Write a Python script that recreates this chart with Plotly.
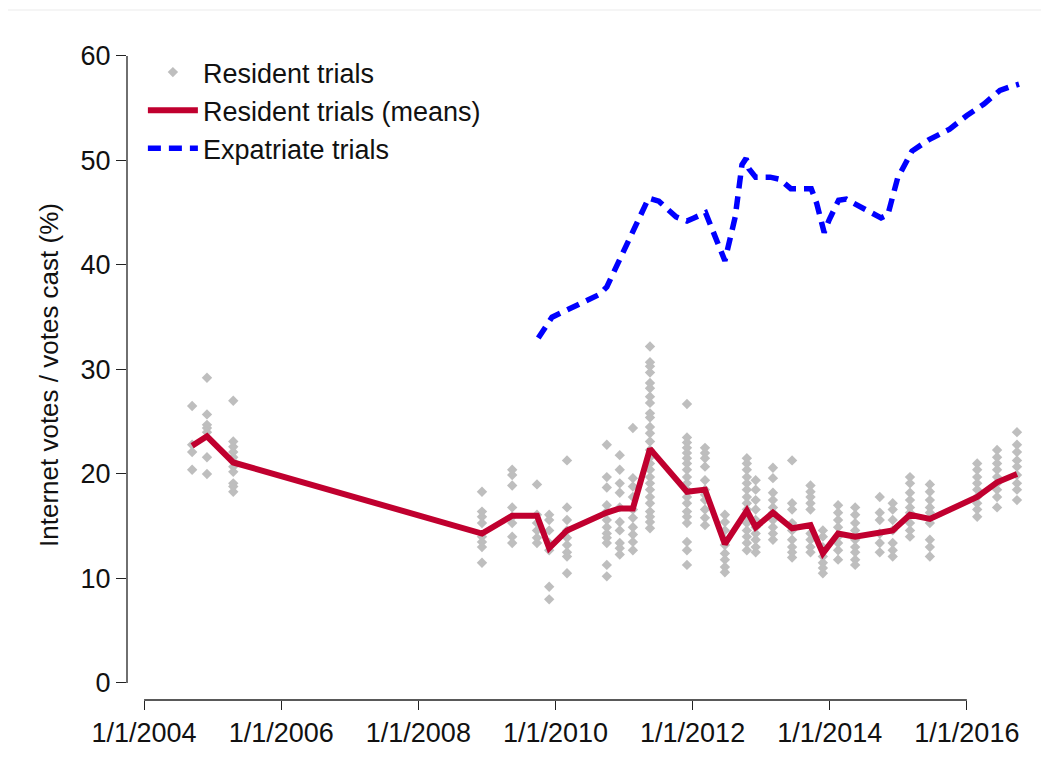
import plotly.graph_objects as go

# ---------------- data ----------------
mean_dates = ["2004-09-13", "2004-12-01", "2005-04-20", "2008-12-05", "2009-05-15",
              "2009-09-24", "2009-11-28", "2010-03-03", "2010-10-01", "2010-12-09",
              "2011-02-17", "2011-05-19", "2011-12-02", "2012-03-07", "2012-06-21",
              "2012-10-16", "2012-12-02", "2013-03-04", "2013-06-14", "2013-09-20",
              "2013-11-25", "2014-02-14", "2014-05-16", "2014-09-24", "2014-12-02",
              "2015-03-04", "2015-06-18", "2016-02-25", "2016-06-10", "2016-09-24"]

mean_values = [22.7, 23.6, 21.1, 14.3, 16.0, 16.0, 12.9, 14.6, 16.3, 16.7,
               16.7, 22.4, 18.3, 18.5, 13.3, 16.5, 14.9, 16.3, 14.8, 15.1,
               12.4, 14.3, 14.0, 14.4, 14.6, 16.1, 15.7, 17.8, 19.2, 20.0]

resident_values = [
    [26.5, 22.8, 22.1, 20.4],
    [29.2, 25.7, 24.7, 24.4, 24.0, 21.6, 20.0],
    [27.0, 23.1, 22.6, 22.1, 21.6, 21.2, 20.7, 20.2, 19.1, 18.8, 18.3],
    [18.3, 16.4, 15.9, 15.3, 14.0, 13.5, 13.0, 11.5],
    [20.4, 19.9, 18.9, 16.8, 15.9, 15.3, 14.0, 13.4],
    [19.0, 16.1, 15.3, 14.6, 13.9, 13.4],
    [16.1, 15.6, 14.6, 13.4, 12.7, 9.2, 8.0],
    [21.3, 16.8, 15.6, 14.6, 13.9, 13.2, 12.5, 12.1, 10.5],
    [22.8, 19.7, 18.7, 17.0, 16.4, 15.6, 14.9, 14.3, 13.9, 13.4, 11.3, 10.2],
    [21.8, 20.4, 19.1, 18.2, 16.8, 15.4, 14.6, 13.4, 12.9, 12.3],
    [24.4, 19.6, 18.8, 17.8, 16.6, 15.8, 14.9, 14.2, 13.5, 12.7],
    [32.2, 30.7, 30.3, 29.7, 28.7, 28.2, 27.4, 26.8, 25.8, 25.4, 24.5, 23.9, 23.1,
     22.3, 21.6, 21.0, 20.4, 19.7, 19.1, 18.5, 17.8, 17.2, 16.4, 15.9, 15.4, 14.8],
    [26.7, 23.5, 23.0, 22.5, 22.0, 21.5, 21.0, 20.4, 19.7, 19.1, 18.5, 17.8, 17.2,
     16.4, 15.9, 15.3, 13.5, 12.7, 11.3],
    [22.5, 22.0, 21.5, 20.7, 19.4, 18.5, 18.0, 17.5, 16.6, 15.8, 15.1],
    [16.1, 15.4, 14.6, 13.7, 13.2, 12.4, 11.8, 11.1, 10.6],
    [21.5, 21.0, 20.4, 19.7, 19.1, 18.5, 17.8, 17.2, 16.6, 15.9, 15.3, 14.6, 14.0,
     13.4, 12.7],
    [19.4, 18.5, 17.5, 16.6, 15.6, 14.9, 14.3, 13.7, 13.0, 12.5],
    [20.6, 19.6, 18.2, 17.5, 16.8, 16.3, 15.6, 14.9, 14.3, 13.7],
    [21.3, 17.2, 16.6, 15.3, 14.6, 13.7, 13.0, 12.5, 12.0],
    [18.9, 18.3, 17.8, 17.2, 16.6, 14.3, 13.7, 13.0, 12.5],
    [14.6, 14.0, 13.0, 12.1, 11.5, 11.0, 10.5],
    [17.0, 16.3, 15.6, 14.9, 14.0, 13.4, 12.7, 11.8],
    [16.8, 16.1, 15.3, 14.6, 13.7, 13.0, 12.5, 11.8, 11.3],
    [17.8, 16.3, 15.6, 14.3, 13.4, 12.5],
    [17.2, 16.6, 15.6, 14.6, 13.4, 12.7, 12.1],
    [19.7, 19.1, 18.2, 17.5, 16.8, 16.3, 15.3, 14.6, 14.0],
    [19.0, 18.3, 17.5, 16.8, 16.3, 15.3, 13.7, 13.0, 12.1],
    [21.0, 20.4, 19.7, 19.1, 18.5, 17.8, 17.2, 16.6, 15.9],
    [22.3, 21.6, 21.0, 20.4, 19.7, 19.1, 18.5, 17.8, 16.8],
    [24.0, 22.8, 22.1, 21.3, 20.7, 19.9, 19.1, 18.5, 17.5],
]

expat_dates = ["2009-10-01", "2009-12-13", "2010-08-25", "2010-10-01", "2011-05-12",
               "2011-07-05", "2011-10-05", "2011-12-02", "2012-01-08", "2012-03-10",
               "2012-06-21", "2012-08-15", "2012-09-20", "2012-10-12", "2012-10-27",
               "2012-12-02", "2013-02-17", "2013-04-09", "2013-06-07", "2013-09-24",
               "2013-10-23", "2013-12-02", "2013-12-28", "2014-02-17", "2014-03-29",
               "2014-06-25", "2014-10-01", "2014-11-06", "2014-12-28", "2015-03-15",
               "2015-06-14", "2015-10-01", "2016-01-01", "2016-04-01", "2016-06-25",
               "2016-08-11", "2016-10-05"]

expat_values = [33.0, 35.0, 37.2, 37.9, 46.4, 46.1, 44.6, 44.2, 44.5, 45.0,
                40.4, 44.6, 49.6, 50.2, 49.2, 48.4, 48.4, 48.2, 47.3, 47.3,
                45.9, 43.1, 44.3, 46.2, 46.3, 45.5, 44.5, 44.8, 48.3, 50.9,
                52.0, 53.0, 54.3, 55.4, 56.7, 57.0, 57.3]

x_tick_vals = ["2004-01-01", "2006-01-01", "2008-01-01", "2010-01-01",
               "2012-01-01", "2014-01-01", "2016-01-01"]
x_tick_text = ["1/1/2004", "1/1/2006", "1/1/2008", "1/1/2010",
               "1/1/2012", "1/1/2014", "1/1/2016"]
y_tick_vals = [0, 10, 20, 30, 40, 50, 60]

# ---------------- figure ----------------
scatter_x, scatter_y = [], []
for d, vals in zip(mean_dates, resident_values):
    for v in vals:
        scatter_x.append(d)
        scatter_y.append(v)

FONT = "Arial, 'Liberation Sans', sans-serif"
TXT = "#111111"

fig = go.Figure()
fig.add_trace(go.Scatter(
    x=scatter_x, y=scatter_y, mode="markers", name="Resident trials",
    marker=dict(symbol="diamond", size=8, color="#BEBEBE", line=dict(width=0)),
    legendgroup="a",
))
fig.add_trace(go.Scatter(
    x=mean_dates, y=mean_values, mode="lines", name="Resident trials (means)",
    line=dict(color="#C0002F", width=6), legendgroup="b",
))
fig.add_trace(go.Scatter(
    x=expat_dates, y=expat_values, mode="lines", name="Expatriate trials",
    line=dict(color="#0000FF", width=5.5, dash="13px,8px"), legendgroup="c",
))

fig.update_layout(
    width=1049, height=771,
    margin=dict(l=119, r=22, t=42, b=79),
    paper_bgcolor="white", plot_bgcolor="white",
    font=dict(family=FONT, size=27, color=TXT),
    showlegend=True,
    legend=dict(x=0.0175, y=1.003, xanchor="left", yanchor="top",
                bgcolor="rgba(0,0,0,0)", font=dict(size=27, color=TXT),
                itemwidth=50, tracegroupgap=0, traceorder="grouped"),
    xaxis=dict(type="date", range=["2003-10-02", "2016-12-29"],
               tickmode="array", tickvals=x_tick_vals, ticktext=x_tick_text,
               ticks="outside", ticklen=9, tickwidth=1, tickcolor="#222222",
               showgrid=False, zeroline=False, showline=False,
               tickfont=dict(size=27, color=TXT)),
    yaxis=dict(range=[-1.63, 60.57], tickmode="array", tickvals=y_tick_vals,
               ticks="outside", ticklen=10, tickwidth=1, tickcolor="#222222",
               showgrid=False, zeroline=False, showline=False,
               tickfont=dict(size=27, color=TXT),
               title=dict(text="Internet votes / votes cast (%)",
                          font=dict(size=26, color=TXT), standoff=14)),
    shapes=[
        dict(type="line", xref="x", yref="paper", x0="2004-01-01", x1="2016-01-01",
             y0=0, y1=0, line=dict(color="#222222", width=1.3)),
        dict(type="line", xref="paper", yref="y", x0=0, x1=0, y0=0, y1=60,
             line=dict(color="#222222", width=1.3)),
        dict(type="line", xref="paper", yref="paper", x0=-0.14, x1=1.02,
             y0=1.0615, y1=1.0615, line=dict(color="#EBEBEB", width=1)),
    ],
)

fig.write_html("out.html")
